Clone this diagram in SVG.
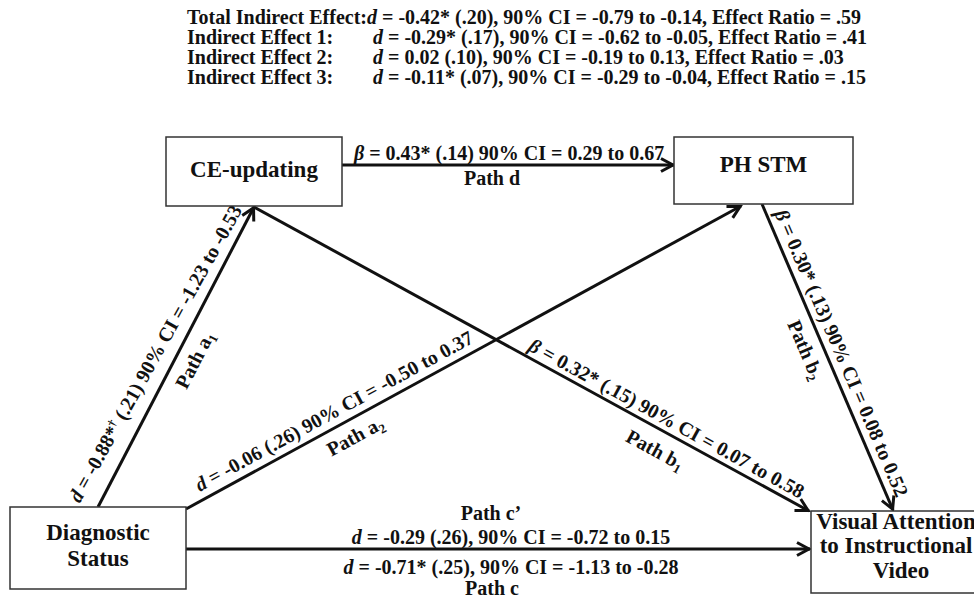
<svg xmlns="http://www.w3.org/2000/svg" width="974" height="598" viewBox="0 0 974 598">
<style>
text{font-family:"Liberation Serif","Times New Roman",serif;font-weight:bold;fill:#111}
.t{font-size:20px}
.b{font-size:23px;text-anchor:middle}
.l{font-size:20px;text-anchor:middle}
.box{fill:#fff;stroke:#333;stroke-width:1.5}
.c{stroke:#111;stroke-width:3;fill:none}
.i{font-style:italic}
</style>
<defs>
<marker id="arr" markerUnits="userSpaceOnUse" markerWidth="20" markerHeight="20" refX="15" refY="8" orient="auto" overflow="visible">
<path d="M2,1.5 L14,8 L2,14.5" fill="none" stroke="#111" stroke-width="3"/>
</marker>
</defs>
<g id="summary">
<text class="t" x="187" y="24">Total Indirect Effect:<tspan class="i">d</tspan> = -0.42* (.20), 90% CI = -0.79 to -0.14, Effect Ratio = .59</text>
<text class="t" x="187" y="44">Indirect Effect 1:</text>
<text class="t" x="373" y="44"><tspan class="i">d</tspan> = -0.29* (.17), 90% CI = -0.62 to -0.05, Effect Ratio = .41</text>
<text class="t" x="187" y="64">Indirect Effect 2:</text>
<text class="t" x="373" y="64"><tspan class="i">d</tspan> = 0.02 (.10), 90% CI = -0.19 to 0.13, Effect Ratio = .03</text>
<text class="t" x="187" y="84">Indirect Effect 3:</text>
<text class="t" x="373" y="84"><tspan class="i">d</tspan> = -0.11* (.07), 90% CI = -0.29 to -0.04, Effect Ratio = .15</text>
</g>
<g id="connectors">
<line class="c" x1="342" y1="165" x2="674" y2="165" marker-end="url(#arr)"/>
<line class="c" x1="98" y1="507" x2="254" y2="207" marker-end="url(#arr)"/>
<line class="c" x1="186" y1="509" x2="741" y2="206" marker-end="url(#arr)"/>
<line class="c" x1="254" y1="207" x2="809" y2="511" marker-end="url(#arr)"/>
<line class="c" x1="762" y1="204" x2="893" y2="510" marker-end="url(#arr)"/>
<line class="c" x1="186" y1="549" x2="810" y2="549" marker-end="url(#arr)"/>
<text class="l" x="509" y="160"><tspan class="i">β</tspan> = 0.43* (.14) 90% CI = 0.29 to 0.67</text>
<text class="l" x="492" y="185">Path d</text>
<g transform="translate(172.6,363.1) rotate(-61)"><text class="l" x="0" y="-13"><tspan class="i">d</tspan> = -0.88*<tspan font-size="12" dy="-7">†</tspan><tspan dy="7"> (.21) 90% CI = -1.23 to -0.53</tspan></text></g>
<g transform="translate(178.5,351.5) rotate(-62.6)"><text class="l" x="0" y="25">Path a<tspan font-size="13" dy="4">1</tspan></text></g>
<g transform="translate(341,424) rotate(-28.6)"><text class="l" x="0" y="-8"><tspan class="i">d</tspan> = -0.06 (.26) 90% CI = -0.50 to 0.37</text></g>
<g transform="translate(347,421) rotate(-28.6)"><text class="l" x="0" y="24">Path a<tspan font-size="13" dy="4">2</tspan></text></g>
<g transform="translate(660.5,429.5) rotate(28.7)"><text class="l" x="0" y="-6"><tspan class="i">β</tspan> = 0.32* (.15) 90% CI = 0.07 to 0.58</text></g>
<g transform="translate(665,432) rotate(28.7)"><text class="l" x="0" y="27">Path b<tspan font-size="13" dy="4">1</tspan></text></g>
<g transform="translate(828,359) rotate(66.8)"><text class="l" x="0" y="-8"><tspan class="i">β</tspan> = 0.30* (.13) 90% CI = 0.08 to 0.52</text></g>
<g transform="translate(821.5,343) rotate(66.8)"><text class="l" x="0" y="24">Path b<tspan font-size="13" dy="4">2</tspan></text></g>
<text class="l" x="491" y="520">Path c’</text>
<text class="l" x="511" y="544"><tspan class="i">d</tspan> = -0.29 (.26), 90% CI = -0.72 to 0.15</text>
<text class="l" x="511" y="574"><tspan class="i">d</tspan> = -0.71* (.25), 90% CI = -1.13 to -0.28</text>
<text class="l" x="492" y="595">Path c</text>
</g>
<g id="ce-updating">
<rect class="box" x="166" y="137" width="176" height="69"/>
<text class="b" x="254" y="177">CE-updating</text>
</g>
<g id="ph-stm">
<rect class="box" x="674" y="137" width="179" height="67"/>
<text class="b" x="763.5" y="172">PH STM</text>
</g>
<g id="diagnostic-status">
<rect class="box" x="10" y="507" width="176" height="82"/>
<text class="b" x="98" y="540">Diagnostic</text>
<text class="b" x="98" y="566">Status</text>
</g>
<g id="visual-attention">
<rect class="box" x="811" y="511" width="180" height="82"/>
<text class="b" x="896" y="529">Visual Attention</text>
<text class="b" x="896" y="553">to Instructional</text>
<text class="b" x="901" y="578">Video</text>
</g>
</svg>
